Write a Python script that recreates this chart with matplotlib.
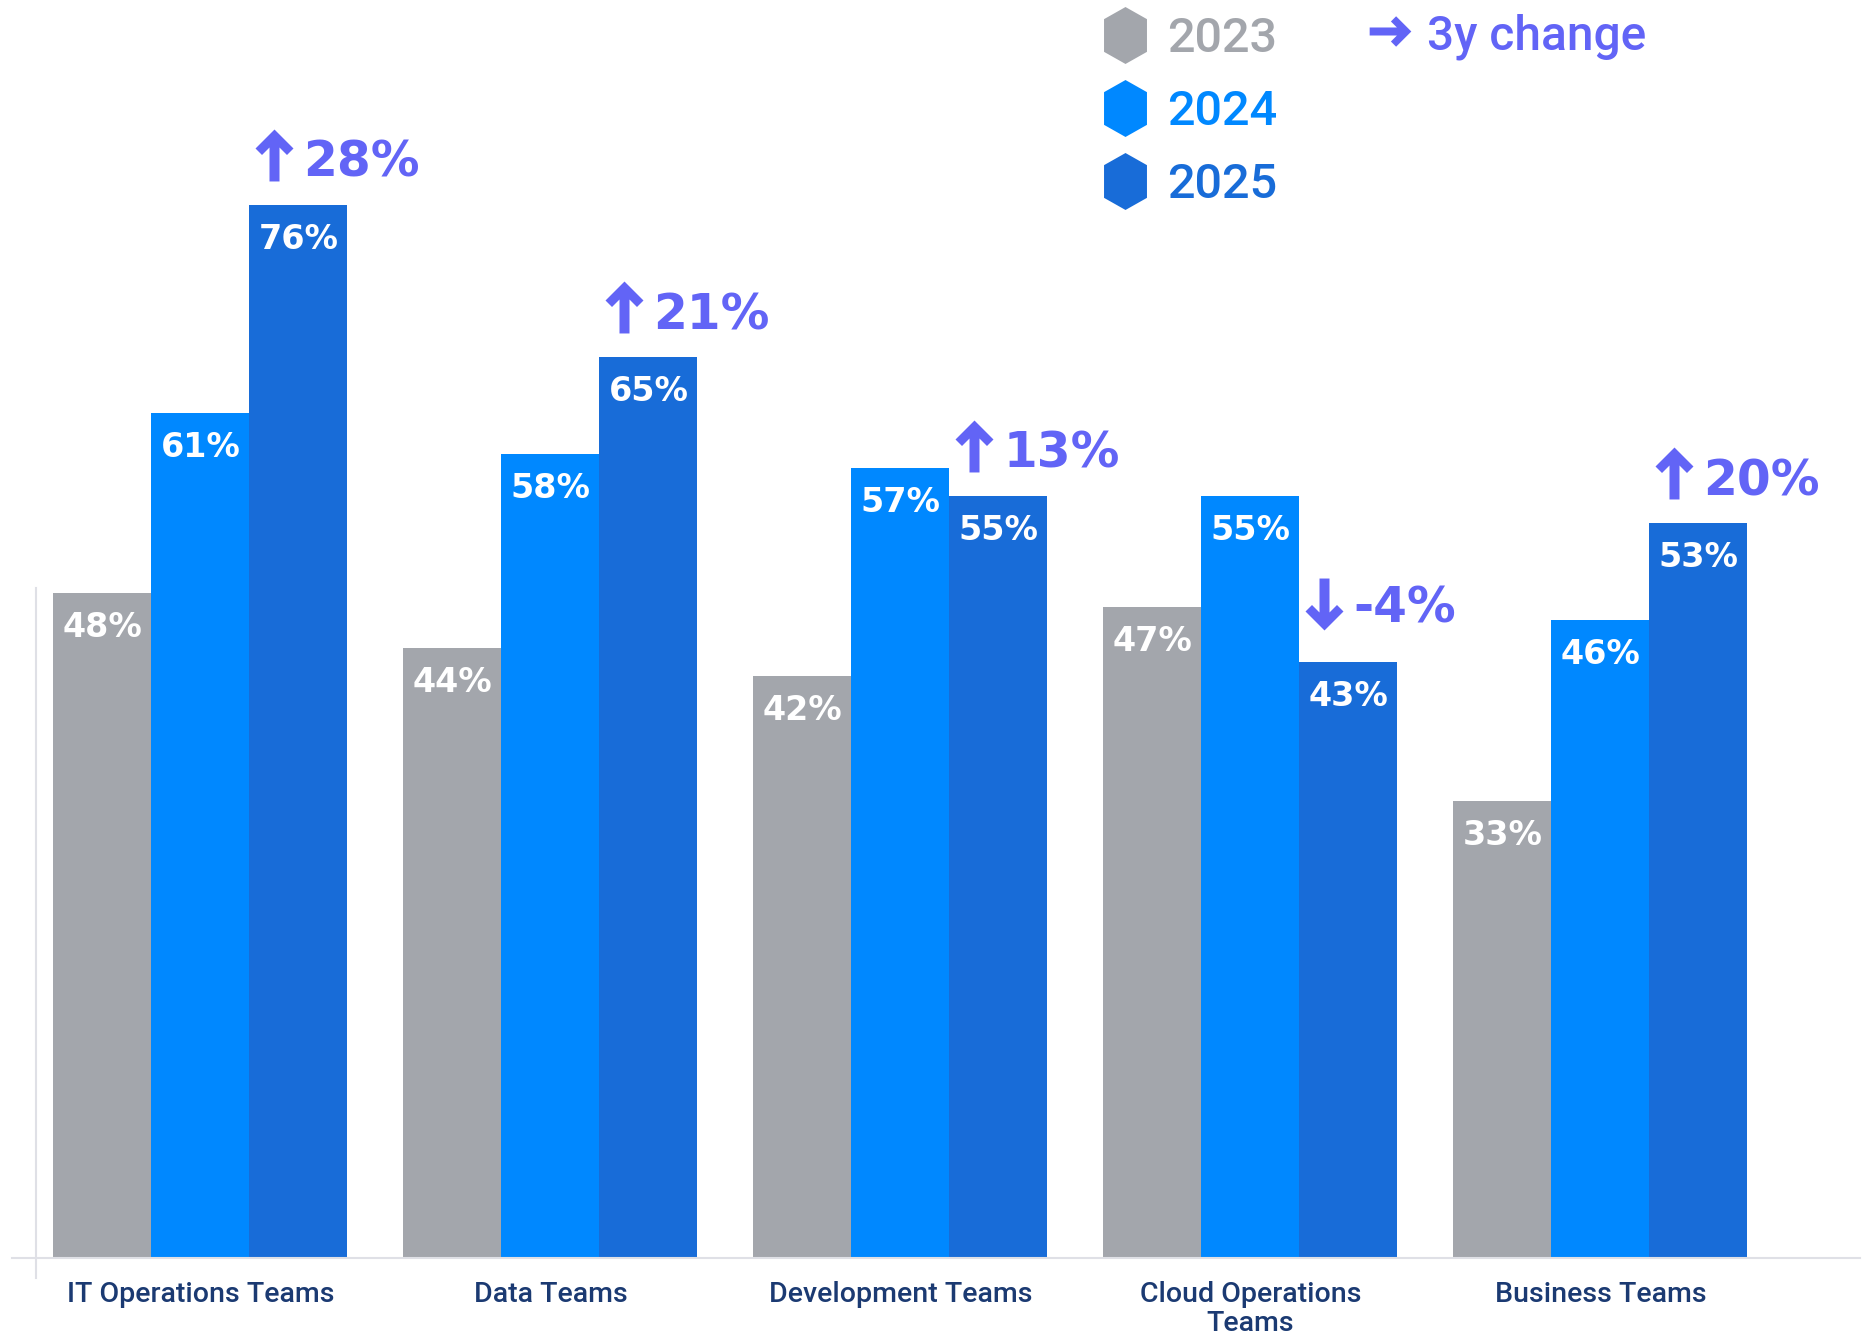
import matplotlib.pyplot as plt
import numpy as np
from matplotlib.transforms import offset_copy

teams = ["IT Operations Teams", "Data Teams", "Development Teams",
         "Cloud Operations\nTeams", "Business Teams"]
years = ["2023", "2024", "2025"]
y2023 = [48, 44, 42, 47, 33]
y2024 = [61, 58, 57, 55, 46]
y2025 = [76, 65, 55, 43, 53]
change = np.array(y2025) - np.array(y2023)

colors = ["#a3a6ac", "#0088ff", "#186cd8"]
purple = "#6264f6"
navy = "#1b3a72"
grid = "#dfe0e6"

# thick chevron arrow (pixels, pointing up) and the legend hexagon
arrow_up = [(0, 26), (19, 7), (12.5, 0.5), (5, 8), (5, -26),
            (-5, -26), (-5, 8), (-12.5, 0.5), (-19, 7)]
arrow_down = [(x, -y) for x, y in arrow_up]
arrow_right = [(y, x) for x, y in arrow_up]
hexagon = [(0, 1), (0.754, 0.574), (0.754, -0.574), (0, -1),
           (-0.754, -0.574), (-0.754, 0.574)]

fig = plt.figure(figsize=(18.7, 13.37), dpi=100)
W, H = 1870, 1337
ax = fig.add_axes([0, 79 / H, 1, 1 - 79 / H])
ax.axis("off")

x = np.arange(len(teams))
w = 0.28
ax.set_xlim(-200.4 / 350, (W - 200.4) / 350)
ax.set_ylim(0, 1258 / 13.86)


def shifted(dx, dy):
    return offset_copy(ax.transData, fig=fig, x=dx, y=dy, units="dots")


for k, vals in enumerate([y2023, y2024, y2025]):
    xs = x + (k - 1) * w
    ax.bar(xs, vals, width=w, color=colors[k], linewidth=0, zorder=2)
    for xi, v in zip(xs, vals):
        ax.text(xi, v, f"{v}%", transform=shifted(0, -44), ha="center",
                va="baseline", color="white", fontsize=24,
                fontweight="bold", family="DejaVu Sans", zorder=3)

# 3-year change above the 2025 bar
for xi, top, c in zip(x + w, y2025, change):
    left = xi - w / 2
    if c >= 0:
        ax.plot(left, top, marker=arrow_up, markersize=37.4, color=purple,
                markeredgewidth=0, transform=shifted(25, 50), clip_on=False)
        base = 28
    else:
        ax.plot(left, top, marker=arrow_down, markersize=37.4, color=purple,
                markeredgewidth=0, transform=shifted(25, 58), clip_on=False)
        base = 40
    ax.text(left, top, f"{c}%", transform=shifted(54, base), ha="left",
            va="baseline", color=purple, fontsize=35, fontweight="bold",
            family="DejaVu Sans")

# category labels
for xi, name in zip(x, teams):
    ax.text(xi, 0, name, transform=shifted(0, -23), ha="center", va="top",
            multialignment="center", linespacing=1.1, color=navy,
            fontsize=20.5, fontweight="medium", family="Roboto")

# baseline and short left axis line
fig.add_artist(plt.Line2D([12 / W, 1860 / W], [1 - 1258 / H, 1 - 1258 / H],
                          color=grid, lw=1.5))
fig.add_artist(plt.Line2D([36 / W, 36 / W], [1 - 588 / H, 1 - 1278 / H],
                          color=grid, lw=1.5))

# legend
for k, (yr, base) in enumerate(zip(years, [52, 125, 198])):
    fig.add_artist(plt.Line2D([1125 / W], [1 - (base - 17) / H],
                              marker=hexagon, markersize=41,
                              color=colors[k], markeredgewidth=0))
    fig.text(1167 / W, 1 - base / H, yr, ha="left", va="baseline",
             color=colors[k], fontsize=35, fontweight="medium",
             family="Roboto")
fig.add_artist(plt.Line2D([1390 / W], [1 - 31 / H], marker=arrow_right,
                          markersize=30, color=purple, markeredgewidth=0))
fig.text(1427 / W, 1 - 49 / H, "3y change", ha="left", va="baseline",
         color=purple, fontsize=34.5, fontweight="medium", family="Roboto")

fig.savefig("out.png", dpi=100)
